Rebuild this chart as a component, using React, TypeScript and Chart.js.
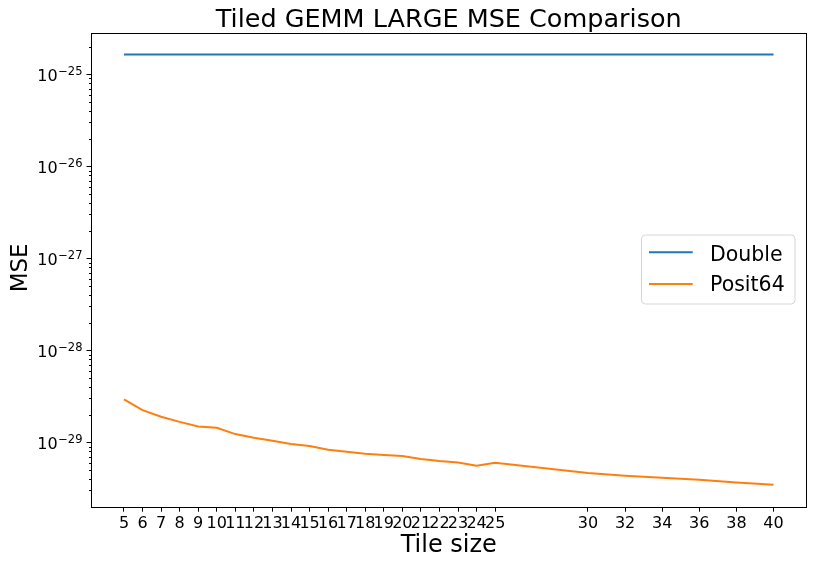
import React, { useEffect, useRef } from 'react';
import { Chart, registerables } from 'chart.js';

Chart.register(...registerables);

const tileSizes = [5, 6, 7, 8, 9, 10, 11, 12, 13, 14, 15, 16, 17, 18, 19, 20, 21, 22, 23, 24, 25, 30, 32, 34, 36, 38, 40];
const doubleMse = [
  1.64e-25, 1.64e-25, 1.64e-25, 1.64e-25, 1.64e-25, 1.64e-25, 1.64e-25, 1.64e-25, 1.64e-25,
  1.64e-25, 1.64e-25, 1.64e-25, 1.64e-25, 1.64e-25, 1.64e-25, 1.64e-25, 1.64e-25, 1.64e-25,
  1.64e-25, 1.64e-25, 1.64e-25, 1.64e-25, 1.64e-25, 1.64e-25, 1.64e-25, 1.64e-25, 1.64e-25,
];
const posit64Mse = [
  2.93e-29, 2.24e-29, 1.9e-29, 1.67e-29, 1.49e-29, 1.44e-29, 1.23e-29, 1.12e-29, 1.04e-29,
  9.59e-30, 9.11e-30, 8.31e-30, 7.91e-30, 7.52e-30, 7.28e-30, 7.1e-30, 6.58e-30, 6.26e-30,
  6.03e-30, 5.57e-30, 6.0e-30, 4.64e-30, 4.34e-30, 4.12e-30, 3.92e-30, 3.67e-30, 3.46e-30,
];
const yTickExponents = [-29, -28, -27, -26, -25];
const seriesNames = ['Double', 'Posit64'];
const seriesColors = ['#1f77b4', '#ff7f0e'];
const titleText = 'Tiled GEMM LARGE MSE Comparison';
const xTitle = 'Tile size';
const yTitle = 'MSE';

const FONT = "'DejaVu Sans', sans-serif";

const supMap: Record<string, string> = { '-': '\u2212' };
function expText(e: number) {
  return String(e).split('').map((c) => supMap[c] || c).join('');
}

// axis ranges with matplotlib-like 5% margins
const xLo = Math.min(...tileSizes);
const xHi = Math.max(...tileSizes);
const xPad = (xHi - xLo) * 0.05;
const allY = [...doubleMse, ...posit64Mse].map((v) => Math.log10(v));
const yLoL = Math.min(...allY);
const yHiL = Math.max(...allY);
const yPadL = (yHiL - yLoL) * 0.05;

const decorPlugin = {
  id: 'decor',
  afterDraw(chart: any) {
    const ctx = chart.ctx as CanvasRenderingContext2D;
    const { left, right, top, bottom } = chart.chartArea;
    const ys = chart.scales.y;
    ctx.save();
    ctx.fillStyle = '#000';
    ctx.strokeStyle = '#000';
    ctx.lineWidth = 1;

    // y minor ticks
    const lo = Math.floor(yLoL) - 1;
    const hi = Math.ceil(yHiL) + 1;
    for (let d = lo; d <= hi; d++) {
      for (let m = 2; m <= 9; m++) {
        const v = m * Math.pow(10, d);
        const lv = Math.log10(v);
        if (lv < yLoL - yPadL || lv > yHiL + yPadL) continue;
        const py = Math.round(ys.getPixelForValue(v)) + 0.5;
        ctx.beginPath();
        ctx.moveTo(left, py);
        ctx.lineTo(left - 2.5, py);
        ctx.stroke();
      }
    }
    // y major ticks + labels
    yTickExponents.forEach((e) => {
      const v = Math.pow(10, e);
      const py0 = ys.getPixelForValue(v);
      const py = Math.round(py0) + 0.5;
      ctx.beginPath();
      ctx.moveTo(left, py);
      ctx.lineTo(left - 5, py);
      ctx.stroke();
      const sup = expText(e);
      ctx.font = `11.5px ${FONT}`;
      const ws = ctx.measureText(sup).width;
      ctx.font = `16px ${FONT}`;
      const wb = ctx.measureText('10').width;
      const endX = left - 9;
      const supX = endX - ws;
      const baseX = supX - wb - 0.5;
      ctx.textAlign = 'left';
      ctx.textBaseline = 'alphabetic';
      ctx.fillText('10', baseX, py0 + 7);
      ctx.font = `11.5px ${FONT}`;
      ctx.fillText(sup, supX, py0 + 0.5);
    });

    // frame
    ctx.strokeRect(Math.round(left) - 0.5, Math.round(top) + 0.5, Math.round(right) - Math.round(left) + 1, Math.round(bottom) - Math.round(top));

    // title
    const cx = (left + right) / 2;
    ctx.textAlign = 'center';
    ctx.textBaseline = 'alphabetic';
    ctx.font = `25.5px ${FONT}`;
    ctx.fillText(titleText, cx, 26.7);
    // x title
    ctx.font = `24px ${FONT}`;
    ctx.fillText(xTitle, cx, 551.7);
    // y title
    ctx.save();
    ctx.translate(26.7, (top + bottom) / 2 - 2);
    ctx.rotate(-Math.PI / 2);
    ctx.font = `23px ${FONT}`;
    ctx.textAlign = 'center';
    ctx.fillText(yTitle, 0, 0);
    ctx.restore();

    // legend
    const bx = 641.5, by = 235, bw = 153.5, bh = 69, r = 4;
    ctx.beginPath();
    ctx.moveTo(bx + r, by);
    ctx.lineTo(bx + bw - r, by);
    ctx.quadraticCurveTo(bx + bw, by, bx + bw, by + r);
    ctx.lineTo(bx + bw, by + bh - r);
    ctx.quadraticCurveTo(bx + bw, by + bh, bx + bw - r, by + bh);
    ctx.lineTo(bx + r, by + bh);
    ctx.quadraticCurveTo(bx, by + bh, bx, by + bh - r);
    ctx.lineTo(bx, by + r);
    ctx.quadraticCurveTo(bx, by, bx + r, by);
    ctx.closePath();
    ctx.fillStyle = 'rgba(255,255,255,0.8)';
    ctx.fill();
    ctx.strokeStyle = '#d6d6d6';
    ctx.stroke();
    const rows = [252.3, 284];
    const bases = [260.7, 291];
    seriesNames.forEach((name, i) => {
      ctx.strokeStyle = seriesColors[i];
      ctx.lineWidth = 2;
      ctx.beginPath();
      ctx.moveTo(649, rows[i]);
      ctx.lineTo(692.7, rows[i]);
      ctx.stroke();
      ctx.fillStyle = '#000';
      ctx.font = `20.5px ${FONT}`;
      ctx.textAlign = 'left';
      ctx.fillText(name, 710, bases[i]);
    });
    ctx.restore();
  },
};

export default function App() {
  const ref = useRef<HTMLCanvasElement | null>(null);
  useEffect(() => {
    if (!ref.current) return;
    const chart = new Chart(ref.current, {
      type: 'line',
      data: {
        datasets: [
          {
            label: seriesNames[0],
            data: tileSizes.map((t, i) => ({ x: t, y: doubleMse[i] })),
            borderColor: seriesColors[0],
            backgroundColor: seriesColors[0],
            borderWidth: 2,
            pointRadius: 0,
            tension: 0,
          },
          {
            label: seriesNames[1],
            data: tileSizes.map((t, i) => ({ x: t, y: posit64Mse[i] })),
            borderColor: seriesColors[1],
            backgroundColor: seriesColors[1],
            borderWidth: 2,
            pointRadius: 0,
            tension: 0,
          },
        ],
      },
      options: {
        responsive: false,
        animation: false,
        devicePixelRatio: 1,
        layout: { padding: { top: 33, right: 8, left: 0, bottom: 0 } },
        plugins: {
          legend: { display: false },
          title: { display: false },
          tooltip: { enabled: false },
        },
        scales: {
          x: {
            type: 'linear',
            min: xLo - xPad,
            max: xHi + xPad,
            afterFit: (s: any) => {
              s.height = 60.3;
            },
            afterBuildTicks: (s: any) => {
              s.ticks = tileSizes.map((v) => ({ value: v }));
            },
            ticks: {
              autoSkip: false,
              maxRotation: 0,
              minRotation: 0,
              padding: 3,
              color: '#000',
              font: { family: FONT, size: 16 },
              callback: (v: any) => String(v),
            },
            grid: {
              display: true,
              drawOnChartArea: false,
              drawTicks: true,
              tickLength: 5,
              color: '#000',
              lineWidth: 1,
            },
            border: { display: false },
          },
          y: {
            type: 'logarithmic',
            min: Math.pow(10, yLoL - yPadL),
            max: Math.pow(10, yHiL + yPadL),
            afterFit: (s: any) => {
              s.width = 91.5;
            },
            ticks: { display: false },
            grid: { display: false },
            border: { display: false },
          },
        },
      },
      plugins: [decorPlugin],
    } as any);
    return () => chart.destroy();
  }, []);
  return (
    <div style={{ position: 'fixed', left: 0, top: 0, width: 814, height: 567, background: '#fff' }}>
      <canvas ref={ref} width={814} height={567} style={{ width: 814, height: 567 }} />
    </div>
  );
}
